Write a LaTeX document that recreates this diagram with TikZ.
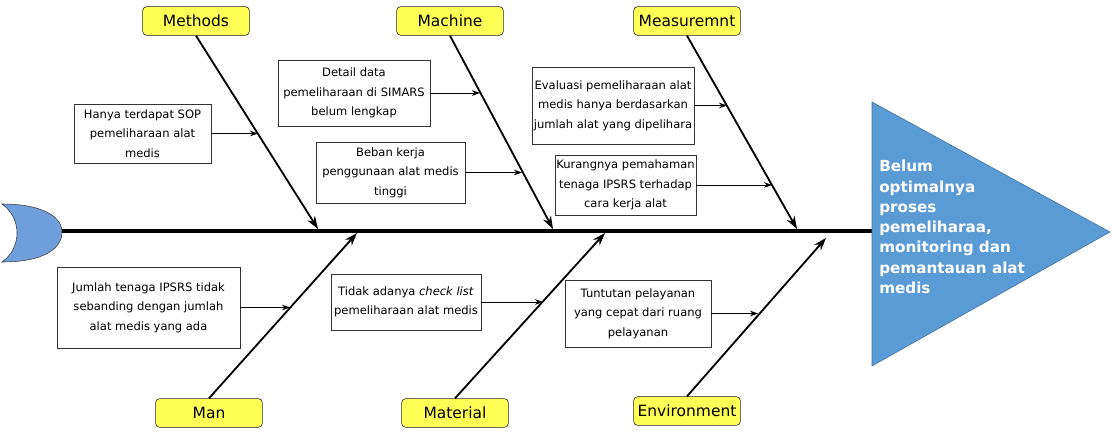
\documentclass[tikz,border=0pt]{standalone}
\usepackage{fontspec}
\setmainfont{DejaVu Sans}
\usetikzlibrary{arrows.meta}
\definecolor{catyellow}{HTML}{FFFF55}
\definecolor{headblue}{HTML}{5B9BD5}
\definecolor{headline}{HTML}{41719C}
\definecolor{tailblue}{HTML}{6F9FDB}

\begin{document}
\begin{tikzpicture}[x=0.025cm, y=-0.025cm,
  category/.style={draw=black!85, fill=catyellow, rounded corners=3pt,
                   minimum width=2.67cm, minimum height=0.72cm, inner sep=0pt,
                   font=\fontsize{11}{13}\selectfont},
  cause/.style={draw=black!80, fill=white, align=center,
                inner xsep=1pt, inner ysep=0pt,
                font=\fontsize{8.2}{13.8}\selectfont},
  bone/.style={line width=1.3pt, -{Stealth[length=0.32cm, width=0.22cm]}},
  twig/.style={line width=0.7pt, -{Stealth[length=0.2cm, width=0.14cm]}},
]
  \useasboundingbox (0,0) rectangle (1114,434);

  % tail and spine
  \draw[draw=black!75, fill=tailblue]
    (2,204) .. controls (45,204) and (62,218) .. (62,232)
    .. controls (62,248) and (45,262) .. (2,262)
    .. controls (22,248) and (22,218) .. (2,204) -- cycle;
  \coordinate (spinestart) at (62,231);
  \coordinate (headbase) at (872,231);
  \draw[line width=2.8pt] (spinestart) -- (headbase);

  % head
  \draw[draw=headline, fill=headblue] (872,102) -- (1110,232) -- (872,366) -- cycle;
  \node[anchor=north west, inner sep=0pt, align=left, text=white,
        font=\bfseries\fontsize{10.8}{14.4}\selectfont] (effect) at (879,160)
    {Belum\\optimalnya\\proses\\pemeliharaa,\\monitoring dan\\pemantauan alat\\medis};

  % categories
  \node[category] (methods) at (196,21) {Methods};
  \node[category] (machine) at (450,21) {Machine};
  \node[category] (measure) at (687,21) {Measuremnt};
  \node[category] (man) at (209,413) {Man};
  \node[category] (material) at (455,413) {Material};
  \node[category] (environment) at (687,411) {Environment};

  % bones
  \coordinate (sMethods) at (318,229);
  \coordinate (sMachine) at (553,229);
  \coordinate (sMeasure) at (797,229);
  \coordinate (sMan) at (357,233);
  \coordinate (sMaterial) at (605,233);
  \coordinate (sEnvironment) at (826,238);
  \draw[bone] (methods.south) -- (sMethods);
  \draw[bone] (machine.south) -- (sMachine);
  \draw[bone] (measure.south) -- (sMeasure);
  \draw[bone] (man.north) -- (sMan);
  \draw[bone] (material.north) -- (sMaterial);
  \draw[bone] (environment.north) -- (sEnvironment);

  % causes
  \node[cause, minimum width=3.43cm, minimum height=1.48cm] (hanya) at (142.5,133.5)
    {Hanya terdapat SOP\\pemeliharaan alat\\medis};
  \node[cause, minimum width=3.8cm, minimum height=1.65cm] (detail) at (354,93)
    {Detail data\\pemeliharaan di SIMARS\\belum lengkap};
  \node[cause, minimum width=3.73cm, minimum height=1.53cm] (beban) at (390.5,172.5)
    {Beban kerja\\penggunaan alat medis\\tinggi};
  \node[cause, minimum width=4.05cm, minimum height=1.93cm] (evaluasi) at (613,105.5)
    {Evaluasi pemeliharaan alat\\medis hanya berdasarkan\\jumlah alat yang dipelihara};
  \node[cause, minimum width=3.43cm, minimum height=1.5cm] (kurang) at (625.5,185)
    {Kurangnya pemahaman\\tenaga IPSRS terhadap\\cara kerja alat};
  \node[cause, minimum width=4.58cm, minimum height=2.03cm] (jumlah) at (148.5,307.5)
    {Jumlah tenaga IPSRS tidak\\sebanding dengan jumlah\\alat medis yang ada};
  \node[cause, minimum width=3.75cm, minimum height=1.4cm] (checklist) at (406,302)
    {Tidak adanya \textit{check list}\\pemeliharaan alat medis};
  \node[cause, minimum width=3.65cm, minimum height=1.68cm] (tuntutan) at (638,313.5)
    {Tuntutan pelayanan\\yang cepat dari ruang\\pelayanan};

  % cause arrows
  \coordinate (tHanya) at (258,133.5);
  \coordinate (tDetail) at (480,93);
  \coordinate (tBeban) at (522,172.5);
  \coordinate (tEvaluasi) at (727,105.5);
  \coordinate (tKurang) at (772,185);
  \coordinate (tJumlah) at (290,307.5);
  \coordinate (tChecklist) at (543,302);
  \coordinate (tTuntutan) at (758,313.5);
  \draw[twig] (hanya.east) -- (tHanya);
  \draw[twig] (detail.east) -- (tDetail);
  \draw[twig] (beban.east) -- (tBeban);
  \draw[twig] (evaluasi.east) -- (tEvaluasi);
  \draw[twig] (kurang.east) -- (tKurang);
  \draw[twig] (jumlah.east) -- (tJumlah);
  \draw[twig] (checklist.east) -- (tChecklist);
  \draw[twig] (tuntutan.east) -- (tTuntutan);

\end{tikzpicture}
\end{document}
